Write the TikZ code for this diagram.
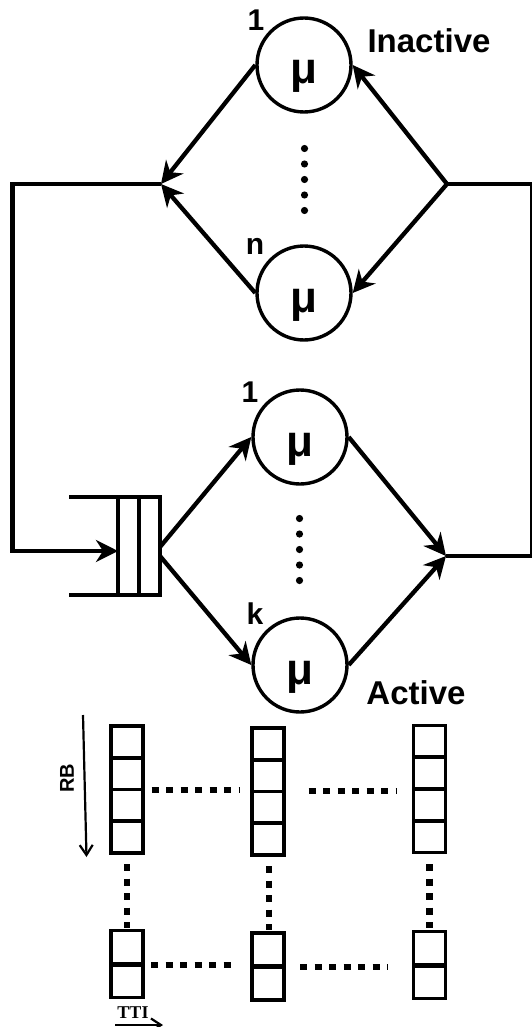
\documentclass[tikz,border=0pt]{standalone}
\usepackage{fontspec}
\setmainfont{Liberation Sans}
\newfontfamily\ttifont{Liberation Serif}
\usetikzlibrary{arrows.meta}

\tikzset{
  srv/.style={circle, draw, line width=3.4pt, minimum size=94pt, inner sep=0pt},
  conn/.style={line width=4.3pt},
  arr/.style={conn, -{Stealth[length=22pt, width=22pt, inset=7pt]}},
  qline/.style={line width=4.3pt},
  mulabel/.style={font=\fontsize{44}{48}\selectfont\bfseries, anchor=base, inner sep=0pt},
  idx/.style={font=\fontsize{30}{34}\selectfont\bfseries, anchor=base, inner sep=0pt},
  grp/.style={font=\fontsize{33}{38}\selectfont\bfseries, anchor=base, inner sep=0pt},
  cell/.style={draw, line width=3.6pt, minimum width=32pt, inner sep=0pt, outer sep=0pt},
  dotrow/.style={line width=6.7pt, dash pattern=on 7pt off 7.5pt},
  thinarr/.style={line width=2.2pt, -{Straight Barb[length=10pt, width=13pt]}}
}

\begin{document}
\begin{tikzpicture}[x=1pt,y=-1pt]
\useasboundingbox (0,0) rectangle (532,1027);

% ---- servers ----
\node[srv] (i1) at (304,65) {};
\node[srv] (in) at (304,293) {};
\node[srv] (a1) at (300,437) {};
\node[srv] (ak) at (300,665) {};

\node[mulabel] (i1mu) at (304,84) {μ};
\node[mulabel] (inmu) at (304,312) {μ};
\node[mulabel] (a1mu) at (300,456) {μ};
\node[mulabel] (akmu) at (300,684) {μ};

\node[idx] (i1idx) at (256,30.5) {1};
\node[idx] (inidx) at (255,254) {n};
\node[idx] (a1idx) at (250,402) {1};
\node[idx] (akidx) at (255,624) {k};

\node[grp] (inact) at (429,52.5) {Inactive};
\node[grp] (act) at (416,704) {Active};

% ellipsis dots between servers
\foreach \k in {0,...,4} \fill (304.5,{148.5+15.5*\k}) circle (3.6pt);
\foreach \k in {0,...,4} \fill (299.5,{518.5+15.5*\k}) circle (3.6pt);

% ---- queue ----
\node[draw, line width=4.3pt, minimum width=42pt, minimum height=98pt,
      inner sep=0pt, outer sep=0pt] (q) at (139,546) {};
\draw[qline] (q.north) -- (q.south);
\draw[qline] (q.north west) -- ++(-49,0);
\draw[qline] (q.south west) -- ++(-49,0);

% ---- junctions and loop ----
\coordinate (jl) at (161,184);
\coordinate (jr) at (447,184);
\coordinate (tl) at (12.5,184);
\coordinate (bl) at (12.5,551);
\coordinate (tr) at (532.5,184);
\coordinate (br) at (532.5,556);
\coordinate (ja) at (446,556);
\coordinate (qo1) at (160,547);
\coordinate (qo2) at (160,556);

\draw[arr] (i1.west) -- (jl);
\draw[arr] (in.west) -- (jl);
\draw[arr] (jr) -- (i1.east);
\draw[arr] (jr) -- (in.east);

\draw[arr] (jl) -- (tl) -- (bl) -- (bl -| q.west);
\draw[arr] (qo1) -- (a1.west);
\draw[arr] (qo2) -- (ak.west);
\draw[arr] (a1.east) -- (ja);
\draw[arr] (ak.east) -- (ja);
\draw[conn] (ja) -- (br) -- (tr) -- (jr);

% ---- resource grid ----
\foreach \c/\x/\t in {1/127/726, 2/268/728, 3/429.5/725.5}
  \foreach \r in {1,...,4}
    \node[cell, minimum height=31.75pt] (t\c\r) at (\x,{\t+31.75*\r-15.875}) {};
\foreach \c/\x/\t in {1/127/930.5, 2/268/933, 3/429.5/931.5}{
  \foreach \r in {1,2}
    \node[cell, minimum height=33.5pt] (b\c\r) at (\x,{\t+33.5*\r-16.75}) {};
  \draw[line width=5pt] (b\c1.south west) -- (b\c1.south east);
}

\draw[dotrow] (151.7,790) -- (240,790);
\draw[dotrow] (308.5,791) -- (396,791);
\draw[dotrow] (151,965) -- (238,965);
\draw[dotrow] (300,967) -- (388,967);
\draw[dotrow] (127,864) -- (127,928);
\draw[dotrow] (269,866) -- (269,930);
\draw[dotrow] (429.5,864) -- (429.5,928);

% axes
\coordinate (rbs) at (83,715);
\coordinate (rbe) at (86.5,857);
\draw[thinarr] (rbs) -- (rbe);
\node[rotate=90, font=\fontsize{20}{24}\selectfont\bfseries, inner sep=0pt] (rb) at (67,778) {RB};

\coordinate (ttis) at (115,1025);
\coordinate (ttie) at (163,1025);
\draw[thinarr] (ttis) -- (ttie);
\node[font=\ttifont\fontsize{18}{20}\selectfont\bfseries, anchor=base, inner sep=0pt] (tti) at (133,1018) {TTI};
\end{tikzpicture}
\end{document}
